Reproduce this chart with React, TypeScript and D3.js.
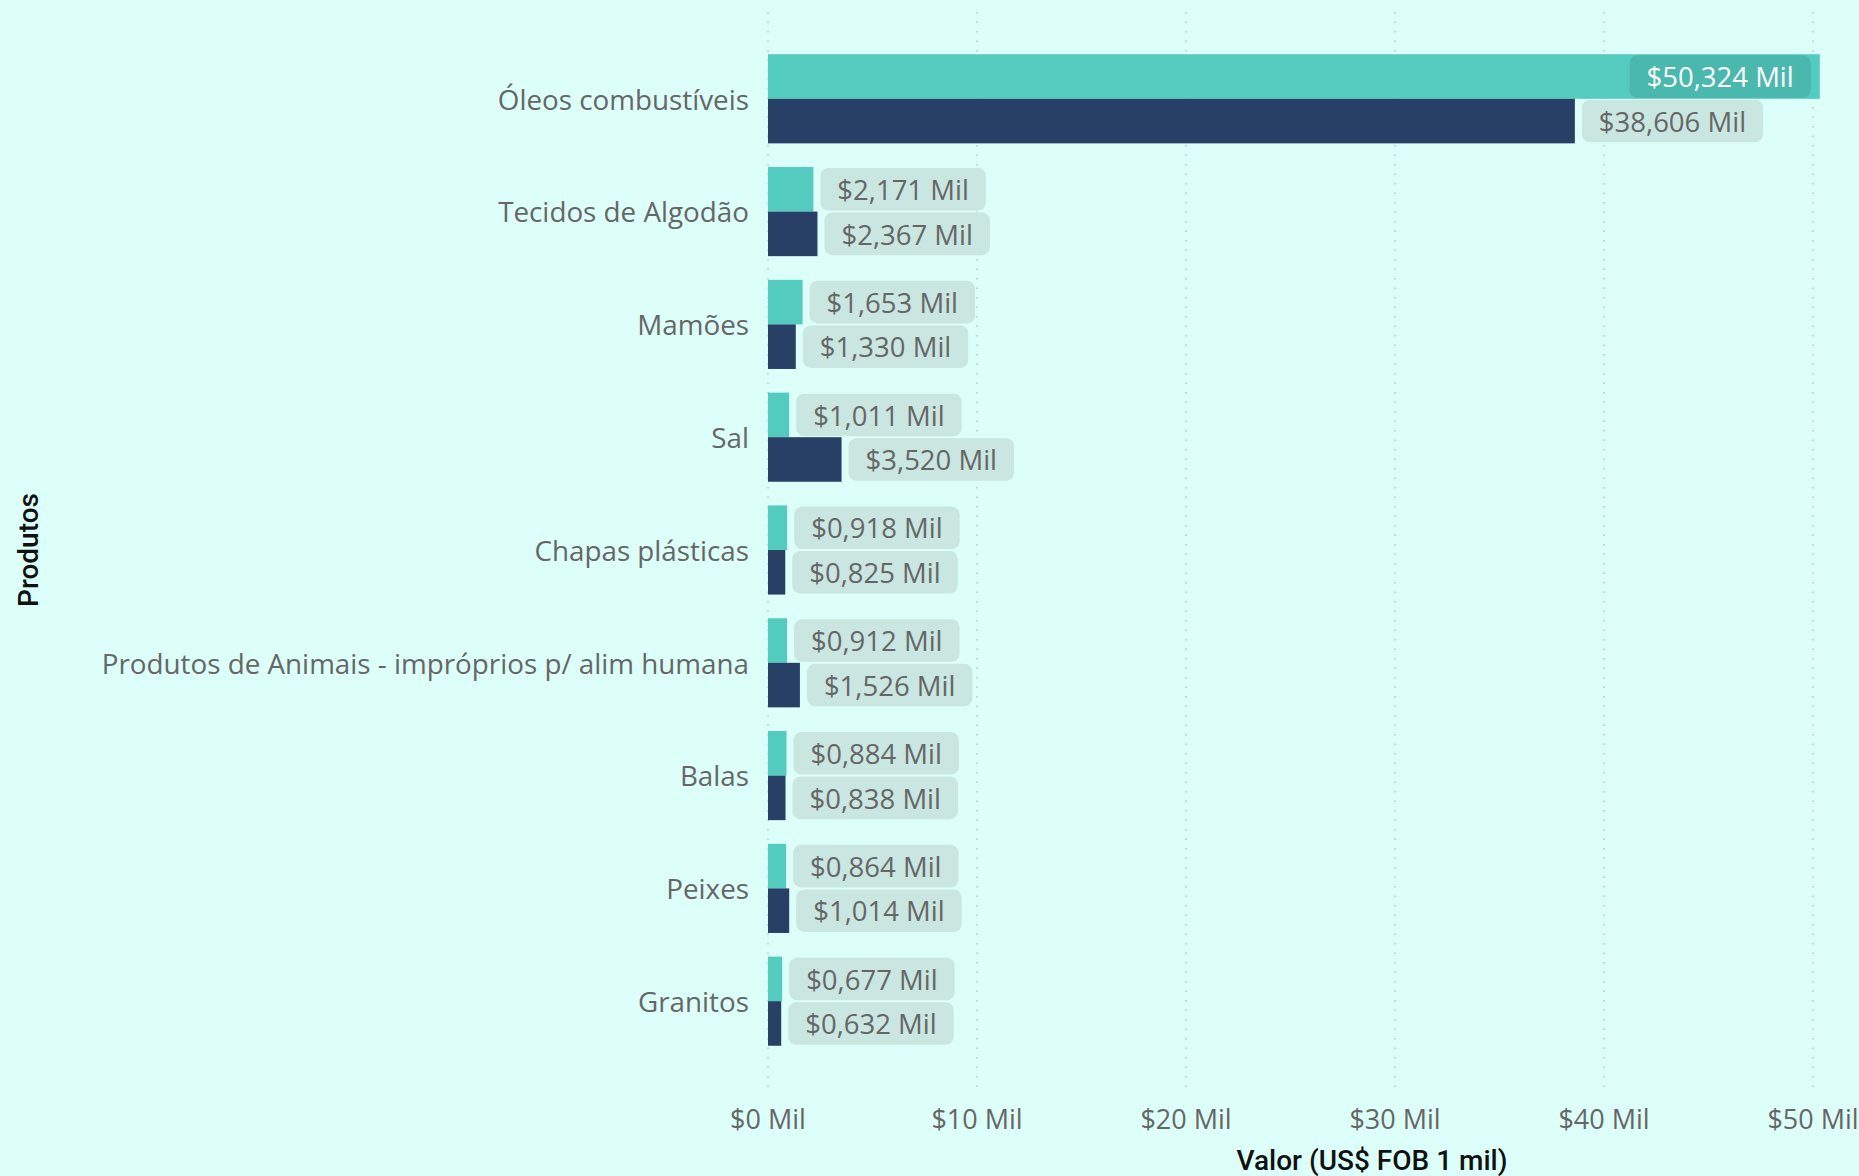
import React, {useEffect, useRef} from 'react';
import * as d3 from 'd3';

const WIDTH = 1859;
const HEIGHT = 1176;

const produtos = [
    'Óleos combustíveis',
    'Tecidos de Algodão',
    'Mamões',
    'Sal',
    'Chapas plásticas',
    'Produtos de Animais - impróprios p/ alim humana',
    'Balas',
    'Peixes',
    'Granitos',
];
const serieA = [50.324, 2.171, 1.653, 1.011, 0.918, 0.912, 0.884, 0.864, 0.677];
const serieB = [38.606, 2.367, 1.33, 3.52, 0.825, 1.526, 0.838, 1.014, 0.632];
const xTicks = [0, 10, 20, 30, 40, 50];
const seriesKeys = ['a', 'b'];

const BG = '#dcfff9';
const COLORS: Record<string, string> = {a: '#53cbbf', b: '#283f66'};
const LABEL_FONT = "'Segoe UI', 'Open Sans', sans-serif";

const fmt = (v: number) => '$' + v.toFixed(3).replace('.', ',') + ' Mil';
const fmtTick = (v: number) => `$${v} Mil`;

const App: React.FC = () => {
    const svgRef = useRef<SVGSVGElement | null>(null);

    useEffect(() => {
        if (svgRef.current) {
            drawChart();
        }
    }, []);

    const drawChart = () => {
        const svg = d3.select(svgRef.current);
        svg.selectAll('*').remove();

        const x = d3.scaleLinear().domain([0, 50]).range([768, 1813]);
        const y = d3.scaleBand<string>()
            .domain(produtos)
            .range([8, 1092])
            .paddingInner(0.21)
            .paddingOuter(0.41);
        const ySub = d3.scaleBand<string>().domain(seriesKeys).range([0, y.bandwidth()]);

        svg.append('rect')
            .attr('width', WIDTH)
            .attr('height', HEIGHT)
            .attr('fill', BG);

        // dotted grid lines
        svg.append('g')
            .selectAll('line')
            .data(xTicks)
            .enter()
            .append('line')
            .attr('x1', (d) => x(d))
            .attr('x2', (d) => x(d))
            .attr('y1', 12)
            .attr('y2', 1095)
            .attr('stroke', '#b9b9b9')
            .attr('stroke-width', 1.3)
            .attr('stroke-dasharray', '1.5,8');

        // x tick labels
        svg.append('g')
            .selectAll('text')
            .data(xTicks)
            .enter()
            .append('text')
            .attr('x', (d) => x(d))
            .attr('y', 1120)
            .attr('dy', '0.35em')
            .attr('text-anchor', 'middle')
            .style('font-family', LABEL_FONT)
            .style('font-size', '27px')
            .style('fill', '#666666')
            .text((d) => fmtTick(d));

        // category labels
        svg.append('g')
            .selectAll('text')
            .data(produtos)
            .enter()
            .append('text')
            .attr('x', 749)
            .attr('y', (d) => (y(d) as number) + y.bandwidth() / 2 + 1)
            .attr('dy', '0.35em')
            .attr('text-anchor', 'end')
            .style('font-family', LABEL_FONT)
            .style('font-size', '27.8px')
            .style('fill', '#666666')
            .text((d) => d);

        const rows = produtos.flatMap((p, i) => [
            {produto: p, key: 'a', value: serieA[i]},
            {produto: p, key: 'b', value: serieB[i]},
        ]);

        const bars = svg.append('g');
        bars.selectAll('rect')
            .data(rows)
            .enter()
            .append('rect')
            .attr('x', x(0))
            .attr('y', (d) => (y(d.produto) as number) + (ySub(d.key) as number))
            .attr('width', (d) => x(d.value) - x(0))
            .attr('height', ySub.bandwidth())
            .attr('fill', (d) => COLORS[d.key]);

        // data labels with rounded backgrounds
        const labels = svg.append('g');
        rows.forEach((d) => {
            const g = labels.append('g');
            const top = (y(d.produto) as number) + (ySub(d.key) as number);
            const text = g.append('text')
                .attr('y', top + ySub.bandwidth() / 2 + 1)
                .attr('dy', '0.35em')
                .attr('text-anchor', 'middle')
                .style('font-family', LABEL_FONT)
                .style('font-size', '27.5px')
                .text(fmt(d.value));
            const tw = (text.node() as SVGTextElement).getComputedTextLength();
            const boxW = tw + 34;
            const end = x(d.value);
            const inside = end + 7 + boxW > WIDTH;
            const bx = inside ? end - 9 - boxW : end + 7;
            g.insert('rect', 'text')
                .attr('x', bx)
                .attr('y', top + 1)
                .attr('width', boxW)
                .attr('height', ySub.bandwidth() - 2)
                .attr('rx', 8)
                .attr('fill', inside ? '#4bb8ad' : '#c9e6e0');
            text.attr('x', bx + boxW / 2).style('fill', inside ? '#ffffff' : '#666666');
        });

        // axis titles
        svg.append('text')
            .attr('x', 1372)
            .attr('y', 1160)
            .attr('dy', '0.35em')
            .attr('text-anchor', 'middle')
            .style('font-family', 'Roboto, sans-serif')
            .style('font-size', '28px')
            .style('font-weight', 500)
            .style('fill', '#111111')
            .text('Valor (US$ FOB 1 mil)');

        svg.append('text')
            .attr('transform', 'translate(28,550) rotate(-90)')
            .attr('dy', '0.35em')
            .attr('text-anchor', 'middle')
            .style('font-family', 'Roboto, sans-serif')
            .style('font-size', '28px')
            .style('font-weight', 500)
            .style('fill', '#111111')
            .text('Produtos');
    };

    return (
        <svg
            ref={svgRef}
            width={WIDTH}
            height={HEIGHT}
            style={{position: 'absolute', left: 0, top: 0, display: 'block'}}
        ></svg>
    );
};

export default App;
